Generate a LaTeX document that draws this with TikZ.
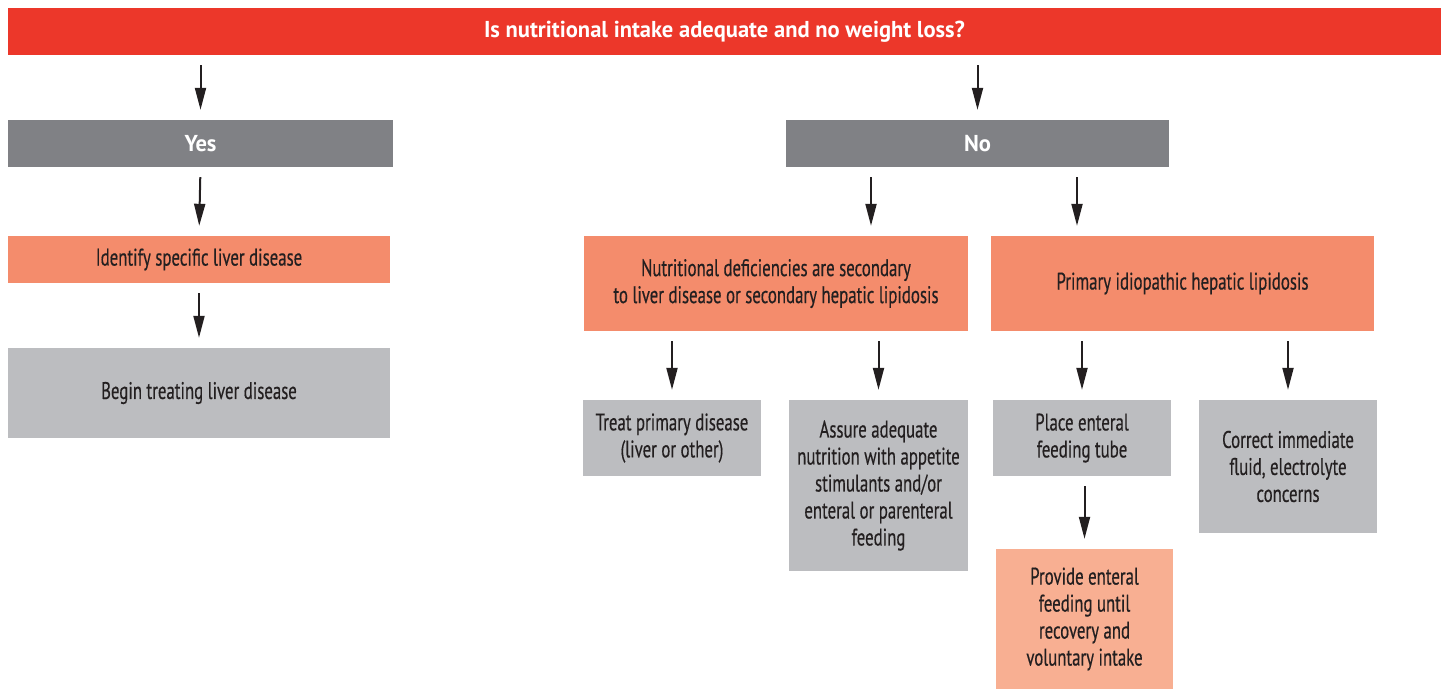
\documentclass[tikz,border=0pt]{standalone}
\usepackage{fontspec}
\setmainfont{PT Sans}
\newfontfamily\bodyfont{PT Sans}[FakeStretch=0.7, FakeBold=0.4]
\newfontfamily\headfont{PT Sans}[FakeStretch=0.98]
\usetikzlibrary{arrows.meta}

\definecolor{titlered}{RGB}{236,55,42}
\definecolor{darkgrey}{RGB}{128,129,133}
\definecolor{salmon}{RGB}{244,140,108}
\definecolor{lightgrey}{RGB}{188,189,192}
\definecolor{palesalmon}{RGB}{248,175,146}
\definecolor{inkblack}{RGB}{35,31,32}

\tikzset{
  box/.style={inner sep=0pt, align=center, text=inkblack, font=\bodyfont\fontsize{24}{27}\selectfont},
  head/.style={box, fill=darkgrey, text=white, font=\headfont\bfseries\fontsize{23}{27}\selectfont},
  arr/.style={-{Triangle[length=22pt,width=11pt]}, line width=2pt, draw=inkblack,
              shorten <=10pt, shorten >=10pt}
}

\begin{document}
\begin{tikzpicture}[x=1pt,y=-1pt]
\useasboundingbox (0,0) rectangle (1448,689);

% header row
\node[head, fill=titlered, minimum width=1433pt, minimum height=47pt] (title) at (724.5,31.5)
  {Is nutritional intake adequate and no weight loss?};
\node[head, minimum width=385pt, minimum height=47pt] (yes) at (200.5,143.5) {Yes};
\node[head, minimum width=383pt, minimum height=47pt] (no) at (977.5,143.5) {No};

% yes branch
\node[box, fill=salmon, minimum width=382pt, minimum height=47pt] (identify) at (199,259.5)
  {Identify specific liver disease};
\node[box, fill=lightgrey, minimum width=382pt, minimum height=90pt] (begin) at (199,393)
  {Begin treating liver disease};

% no branch
\node[box, fill=salmon, minimum width=384pt, minimum height=95pt] (secondary) at (776,283.5)
  {Nutritional deficiencies are secondary\\to liver disease or secondary hepatic lipidosis};
\node[box, fill=salmon, minimum width=383pt, minimum height=95pt] (primary) at (1182.5,283.5)
  {Primary idiopathic hepatic lipidosis};

\node[box, fill=lightgrey, minimum width=178pt, minimum height=76pt] (treat) at (672,438)
  {Treat primary disease\\(liver or other)};
\node[box, fill=lightgrey, minimum width=179pt, minimum height=171pt] (assure) at (878.5,485.5)
  {Assure adequate\\nutrition with appetite\\stimulants and/or\\enteral or parenteral\\feeding};
\node[box, fill=lightgrey, minimum width=178pt, minimum height=76pt] (tube) at (1082,438)
  {Place enteral\\feeding tube};
\node[box, fill=lightgrey, minimum width=178pt, minimum height=133pt] (fluid) at (1288,466.5)
  {Correct immediate\\fluid, electrolyte\\concerns};
\node[box, fill=palesalmon, minimum width=177pt, minimum height=140pt] (feed) at (1084.5,619)
  {Provide enteral\\feeding until\\recovery and\\voluntary intake};

% arrows
\draw[arr] (yes.north |- title.south) -- (yes.north);
\draw[arr] (no.north |- title.south) -- (no.north);
\draw[arr] (yes.south) -- (identify.north);
\draw[arr] (identify.south) -- (begin.north);
\draw[arr] ([xshift=-106.5pt]no.south) -- ([xshift=-106.5pt]no.south |- secondary.north);
\draw[arr] ([xshift=99.5pt]no.south) -- ([xshift=99.5pt]no.south |- primary.north);
\draw[arr] (treat.north |- secondary.south) -- (treat.north);
\draw[arr] (assure.north |- secondary.south) -- (assure.north);
\draw[arr] (tube.north |- primary.south) -- (tube.north);
\draw[arr] (fluid.north |- primary.south) -- (fluid.north);
\draw[arr] (feed.north |- tube.south) -- (feed.north);
\end{tikzpicture}
\end{document}
